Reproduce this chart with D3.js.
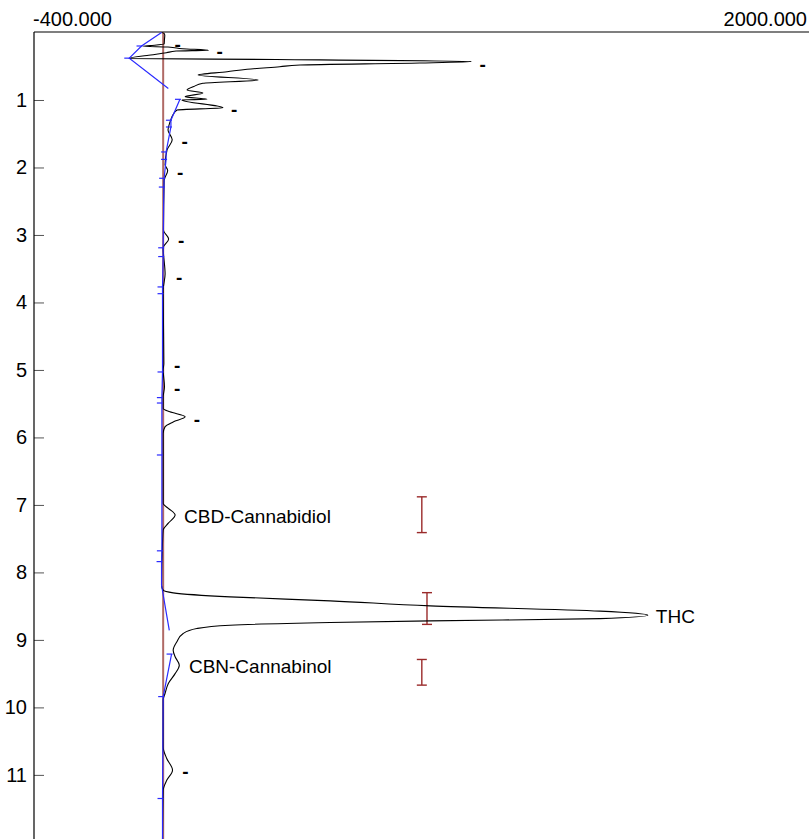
<!DOCTYPE html>
<html lang="en">
<head>
  <meta charset="utf-8">
  <title>Chromatogram</title>
  <script src="https://cdn.jsdelivr.net/npm/d3@7"></script>
  <style>
    body { margin: 0; background: #fff; }
    svg { display: block; font-family: Arial, "Liberation Sans", sans-serif; }
  </style>
</head>
<body>
  <svg width="809" height="839" id="mainsvg"></svg>
  <script>
    const svg = d3.select('#mainsvg');
    const width = +svg.attr('width');
    const height = +svg.attr('height');

    // signal trace: [time (min), response]
    const trace = [
      [0.000, -5], [0.010, 2], [0.040, 5], [0.100, 4], [0.170, 3], [0.195, -40], [0.205, -62],
      [0.215, 15], [0.240, 60], [0.262, 140], [0.275, 40], [0.300, 10], [0.340, -50], [0.385, -105],
      [0.400, 350], [0.430, 955], [0.452, 795], [0.482, 424], [0.507, 361], [0.545, 260], [0.581, 198],
      [0.630, 108], [0.704, 294], [0.753, 123], [0.800, 95], [0.852, 74], [0.897, 123], [0.951, 68],
      [0.990, 136], [1.000, 58], [1.115, 185], [1.149, 43], [1.223, 30], [1.330, 21], [1.445, 15],
      [1.590, 28], [1.740, 12], [1.960, 6], [2.045, 14], [2.190, 3], [2.930, 1], [3.060, 17],
      [3.190, 0], [3.580, 6], [3.820, 0], [4.910, 2], [5.000, 0], [5.250, 4], [5.400, 0],
      [5.570, 0], [5.620, 21], [5.695, 68], [5.770, 31], [5.840, 6], [5.940, 0],
      [6.980, 0], [7.050, 16], [7.150, 37], [7.270, 16], [7.370, 0], [7.550, -2],
      [8.189, -5], [8.263, 0], [8.303, 31], [8.362, 207], [8.421, 517], [8.496, 827], [8.574, 1353],
      [8.634, 1501], [8.685, 1353], [8.718, 827], [8.742, 517], [8.782, 207], [8.831, 104],
      [8.905, 62], [9.030, 42], [9.152, 31], [9.250, 37], [9.375, 50], [9.500, 37], [9.646, 16],
      [9.790, 6], [9.890, 0], [10.585, 0], [10.757, 11], [10.930, 29], [11.080, 11], [11.230, 0],
      [11.950, -2]
    ];

    // integration baseline: [time, response, tick mark]; null = gap
    const baseline = [
      [0.00, -5, 0], [0.20, -67, 1], [0.38, -105, 1], [0.83, 16, 0], null,
      [0.99, 52, 1], [1.30, 24, 1], [1.40, 24, 1], [1.77, 9, 1], [1.88, 9, 1], [2.16, 3, 1],
      [2.29, 2, 1], [3.19, 0, 1], [3.32, 0, 1], [3.77, -2, 1], [3.87, -2, 1], [5.03, -2, 1],
      [5.41, -4, 1], [5.49, -4, 1], [6.26, -4, 1], [7.68, -4, 1], [7.84, -5, 1], [8.19, -5, 0],
      [8.86, 19, 0], null,
      [9.21, 26, 1], [9.84, 0, 1], [11.35, -2, 1], [11.95, -2, 0]
    ];

    // peak labels: time, apex response, name
    const peakTimes = [0.15, 0.26, 0.45, 1.115, 1.59, 2.045, 3.06, 3.61, 4.91, 5.26, 5.71, 7.15, 8.634, 9.375, 10.93];
    const peakHeights = [10, 140, 955, 185, 32, 18, 21, 15, 9, 9, 70, 40, 1501, 55, 34];
    const peakNames = ['-', '-', '-', '-', '-', '-', '-', '-', '-', '-', '-', 'CBD-Cannabidiol', 'THC', 'CBN-Cannabinol', '-'];

    // expected retention windows: start, end, response position
    const windowStart = [6.88, 8.30, 9.29];
    const windowEnd = [7.41, 8.77, 9.67];
    const windowPos = [801, 817, 801];

    const xDomain = [-400, 2000];
    const yTicks = [1, 2, 3, 4, 5, 6, 7, 8, 9, 10, 11];

    const margin = { top: 32.5, left: 34 };
    const xScale = d3.scaleLinear().domain(xDomain).range([margin.left, width]);
    const yScale = d3.scaleLinear().domain([0, 11.95]).range([margin.top, height]);
    const fmt = v => d3.format('.3f')(v).replace('\u2212', '-');

    // frame
    svg.append('line')
      .attr('x1', margin.left).attr('x2', width)
      .attr('y1', 32).attr('y2', 32)
      .attr('stroke', '#000').attr('stroke-width', 1.2);

    const yAxis = d3.axisLeft(yScale)
      .tickValues(yTicks)
      .tickFormat(d3.format('d'))
      .tickSizeInner(-10)
      .tickSizeOuter(0)
      .tickPadding(7);
    const yAxisGroup = svg.append('g')
      .attr('transform', `translate(${margin.left}, 0)`)
      .call(yAxis);
    yAxisGroup.select('.domain').remove();
    yAxisGroup.selectAll('.tick line').attr('stroke', '#555');
    yAxisGroup.selectAll('.tick text')
      .attr('font-size', 20)
      .attr('font-family', 'Arial, "Liberation Sans", sans-serif')
      .attr('fill', '#000');

    svg.append('line')
      .attr('x1', margin.left).attr('x2', margin.left)
      .attr('y1', 32).attr('y2', height)
      .attr('stroke', '#000').attr('stroke-width', 1.2);

    svg.append('text').text(fmt(xDomain[0]))
      .attr('x', margin.left - 1).attr('y', 26)
      .attr('font-size', 20).attr('text-anchor', 'start');
    svg.append('text').text(fmt(xDomain[1]))
      .attr('x', width - 2).attr('y', 26)
      .attr('font-size', 20).attr('text-anchor', 'end');

    // zero line
    svg.append('line')
      .attr('x1', xScale(0)).attr('x2', xScale(0))
      .attr('y1', 32).attr('y2', height)
      .attr('stroke', '#b06a66').attr('stroke-width', 2);

    // retention windows
    const win = svg.append('g').attr('stroke', '#9a2a2a').attr('stroke-width', 1.4);
    windowStart.forEach((s, i) => {
      const x = xScale(windowPos[i]);
      win.append('line').attr('x1', x).attr('x2', x)
        .attr('y1', yScale(s)).attr('y2', yScale(windowEnd[i]));
      [s, windowEnd[i]].forEach(t => {
        win.append('line').attr('x1', x - 5).attr('x2', x + 5)
          .attr('y1', yScale(t)).attr('y2', yScale(t));
      });
    });

    // trace
    const traceLine = d3.line()
      .x(d => xScale(d[1]))
      .y(d => yScale(d[0]))
      .curve(d3.curveMonotoneY);
    svg.append('path')
      .datum(trace)
      .attr('d', traceLine)
      .attr('fill', 'none')
      .attr('stroke', '#000')
      .attr('stroke-width', 1.1);

    // baseline
    const baseLine = d3.line()
      .defined(d => d !== null)
      .x(d => xScale(d[1]))
      .y(d => yScale(d[0]));
    svg.append('path')
      .datum(baseline)
      .attr('d', baseLine)
      .attr('fill', 'none')
      .attr('stroke', '#2a2aff')
      .attr('stroke-width', 1.2);
    svg.append('g').selectAll('line')
      .data(baseline.filter(d => d && d[2]))
      .enter().append('line')
      .attr('x1', d => xScale(d[1]) - 5)
      .attr('x2', d => xScale(d[1]) + 1)
      .attr('y1', d => yScale(d[0]))
      .attr('y2', d => yScale(d[0]))
      .attr('stroke', '#2a2aff')
      .attr('stroke-width', 1.2);

    // labels
    svg.append('g').selectAll('text')
      .data(peakNames)
      .enter().append('text')
      .attr('x', (d, i) => xScale(peakHeights[i]) + 8)
      .attr('y', (d, i) => yScale(peakTimes[i]) + 8)
      .attr('font-size', 19)
      .attr('font-weight', d => d === '-' ? 'bold' : 'normal')
      .attr('fill', '#000')
      .text(d => d);
  </script>
</body>
</html>
